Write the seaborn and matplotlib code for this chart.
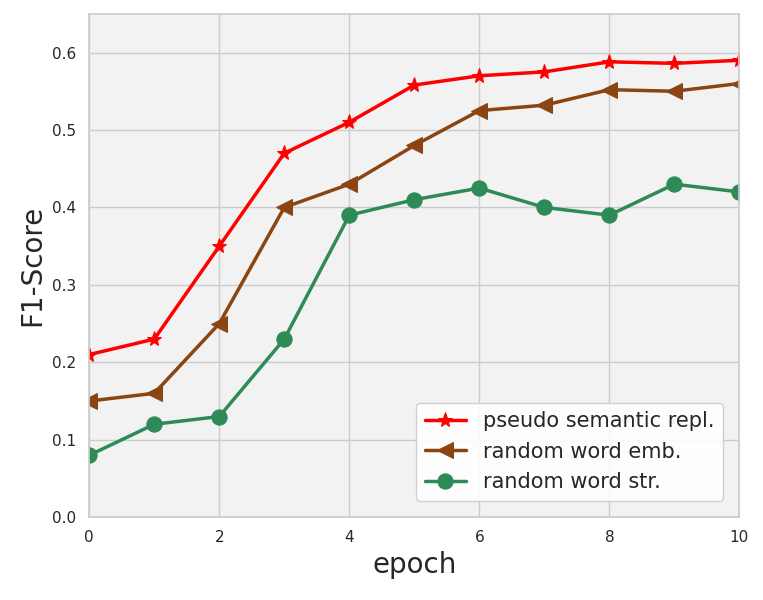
import numpy as np
import pandas as pd
import seaborn as sns
import matplotlib
matplotlib.use("Agg")
import matplotlib.pyplot as plt

epochs = list(range(11))
pseudo = [0.21, 0.23, 0.35, 0.47, 0.51, 0.558, 0.57, 0.575, 0.588, 0.586, 0.59]
rand_emb = [0.15, 0.16, 0.25, 0.40, 0.43, 0.48, 0.525, 0.532, 0.552, 0.550, 0.56]
rand_str = [0.08, 0.12, 0.13, 0.23, 0.39, 0.41, 0.425, 0.40, 0.39, 0.43, 0.42]

sns.set_theme(style="whitegrid")
plt.rcParams['font.family'] = ['DejaVu Sans']

fig, ax = plt.subplots(figsize=(7.63, 6), dpi=100)
fig.subplots_adjust(left=0.117, right=0.969, top=0.977, bottom=0.138)
ax.set_facecolor("#f2f2f2")

sns.lineplot(x=epochs, y=pseudo, ax=ax, color="red", marker="*", markersize=11,
             markeredgecolor="red", linewidth=2.5, label="pseudo semantic repl.")
sns.lineplot(x=epochs, y=rand_emb, ax=ax, color="#8b4513", marker="<", markersize=11,
             markeredgecolor="#8b4513", linewidth=2.5, label="random word emb.")
sns.lineplot(x=epochs, y=rand_str, ax=ax, color="#2e8b57", marker="o", markersize=11,
             markeredgecolor="#2e8b57", linewidth=2.5, label="random word str.")

ax.set_xlim(0, 10)
ax.set_ylim(0, 0.65)
ax.set_xticks([0, 2, 4, 6, 8, 10])
ax.set_yticks([0.0, 0.1, 0.2, 0.3, 0.4, 0.5, 0.6])
ax.tick_params(labelsize=11)
ax.set_xlabel("epoch", fontsize=20)
ax.set_ylabel("F1-Score", fontsize=20)
for s in ax.spines.values():
    s.set_color("#cccccc")
ax.legend(loc="lower right", fontsize=15, facecolor="white", framealpha=0.9,
          borderaxespad=0.8)

fig.savefig("out.png")
